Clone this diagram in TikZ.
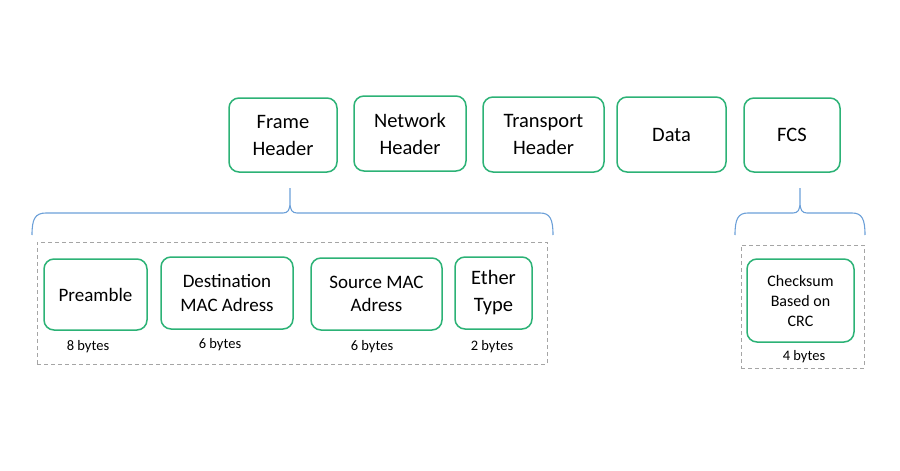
\documentclass[tikz,border=0pt]{standalone}
\usepackage{fontspec}
\setmainfont{Carlito}
\definecolor{boxgreen}{RGB}{44,178,118}
\definecolor{braceblue}{RGB}{108,160,216}
\definecolor{dashgray}{RGB}{165,165,165}
\begin{document}
\begin{tikzpicture}[x=1pt,y=-1pt,
  gbox/.style={draw=boxgreen, line width=1.5pt, rounded corners=10pt, inner sep=0pt, align=center, text=black},
  big/.style={font=\fontsize{20.5}{27}\selectfont},
  mid/.style={font=\fontsize{19}{23.5}\selectfont},
  small/.style={font=\fontsize{16}{20}\selectfont},
  bytes/.style={font=\fontsize{14.5}{16}\selectfont, inner sep=0pt},
  dbox/.style={draw=dashgray, dashed, dash pattern=on 4pt off 3pt, line width=0.9pt, inner sep=0pt},
  brc/.style={draw=braceblue, line width=1.1pt}]
\useasboundingbox (0,0) rectangle (900,471);
% top row
\node[gbox,big,minimum width=108pt,minimum height=74pt] (frame) at (283,135) {Frame\\Header};
\node[gbox,big,minimum width=112pt,minimum height=75pt] (network) at (410,133.5) {Network\\Header};
\node[gbox,big,minimum width=121pt,minimum height=75pt] (transport) at (543.5,134.5) {Transport\\Header};
\node[gbox,big,minimum width=109pt,minimum height=75pt] (data) at (671.5,134.5) {Data};
\node[gbox,big,minimum width=96pt,minimum height=74pt] (fcs) at (792,135) {FCS};
% dashed containers
\node[dbox,minimum width=510pt,minimum height=122pt] (hdrgrp) at (292,303) {};
\node[dbox,minimum width=123pt,minimum height=123pt] (fcsgrp) at (802.5,306.5) {};
% frame header fields
\node[gbox,mid,minimum width=103pt,minimum height=71pt] (pre) at (95.5,294.5) {Preamble};
\node[gbox,mid,minimum width=132pt,minimum height=72pt] (dst) at (227,293) {Destination\\MAC Adress};
\node[gbox,mid,minimum width=131pt,minimum height=72pt] (src) at (376.5,294) {Source MAC\\Adress};
\node[gbox,big,minimum width=77pt,minimum height=72pt] (eth) at (493.5,293) {Ether\\Type};
\node[gbox,small,minimum width=107pt,minimum height=83pt] (crc) at (800.5,300.5) {Checksum\\Based on\\CRC};
% byte labels
\node[bytes] (b8) at (88,347) {8 bytes};
\node[bytes] (b6a) at (220,345) {6 bytes};
\node[bytes] (b6b) at (372,347) {6 bytes};
\node[bytes] (b2) at (492,347) {2 bytes};
\node[bytes] (b4) at (804,357) {4 bytes};
% braces
\coordinate (t1) at (290,188);
\coordinate (l1) at (32,235);
\coordinate (r1) at (553,235);
\draw[brc] (l1) .. controls (32,219) and (35,213) .. (46,213) -- (283,213)
  .. controls (288,213) and (290,210) .. (290,202) -- (t1)
  (t1) -- (290,202) .. controls (290,210) and (292,213) .. (297,213) -- (540,213)
  .. controls (550,213) and (553,219) .. (r1);
\coordinate (t2) at (800,188);
\coordinate (l2) at (735,235);
\coordinate (r2) at (865,235);
\draw[brc] (l2) .. controls (735,219) and (738,213) .. (748,213) -- (793,213)
  .. controls (798,213) and (800,210) .. (800,202) -- (t2)
  (t2) -- (800,202) .. controls (800,210) and (802,213) .. (807,213) -- (852,213)
  .. controls (862,213) and (865,219) .. (r2);
\end{tikzpicture}
\end{document}
